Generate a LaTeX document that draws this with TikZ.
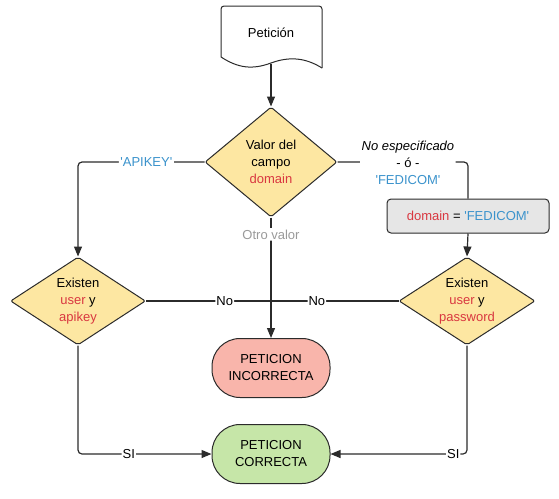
\documentclass[tikz,border=0pt]{standalone}
\usepackage{fontspec}
\setmainfont{Liberation Sans}
\usetikzlibrary{shapes.geometric,arrows.meta}
\definecolor{decfill}{HTML}{FDE7A2}
\definecolor{badfill}{HTML}{F9B5AB}
\definecolor{goodfill}{HTML}{C6E6A8}
\definecolor{boxfill}{HTML}{E6E6E6}
\definecolor{redtxt}{HTML}{D93740}
\definecolor{bluetxt}{HTML}{3B93CC}
\definecolor{graytxt}{HTML}{9A9A9A}
\definecolor{edge}{HTML}{2B2B2B}
\newcommand{\sq}{\textquotesingle}
\tikzset{
  decision/.style={diamond,draw=edge,line width=1pt,fill=decfill,inner sep=0pt,align=center,rounded corners=2pt},
  terminal/.style={rectangle,draw=edge,line width=1pt,rounded corners=28pt,minimum width=118pt,minimum height=59pt,align=center},
  setbox/.style={rectangle,draw=edge,line width=1pt,fill=boxfill,rounded corners=4pt,minimum width=162pt,minimum height=34pt},
  conn/.style={draw=edge,line width=1.2pt,rounded corners=4pt},
  arr/.style={conn,-{Triangle[length=10pt,width=8pt]}},
  lbl/.style={fill=white,inner sep=1.5pt,align=center}
}
\begin{document}
\begin{tikzpicture}[x=1pt,y=-1pt,font=\fontsize{13}{17}\selectfont]
\useasboundingbox (0,0) rectangle (559,498);
% document shape
\draw[edge,line width=1pt,rounded corners=3pt] (221,57) -- (221,6) -- (322,6) -- (322,68);
\draw[edge,line width=1pt] (322,68) .. controls (306,58) and (290,56) .. (271,63) .. controls (252,70) and (238,68) .. (221,57);
\node (doc) at (271,33) {Petición};
\coordinate (docb) at (271,63.5);
% decisions
\node[decision,aspect=1.2,minimum width=132pt,minimum height=110pt] (dv) at (271,162) {Valor del\\campo\\\textcolor{redtxt}{domain}};
\node[decision,aspect=1.53,minimum width=135pt,minimum height=88pt] (ld) at (78,301) {Existen\\\textcolor{redtxt}{user} y\\\textcolor{redtxt}{apikey}};
\node[decision,aspect=1.55,minimum width=136pt,minimum height=88pt] (rd) at (467,301) {Existen\\\textcolor{redtxt}{user} y\\\textcolor{redtxt}{password}};
\node[setbox] (box) at (468,216) {\textcolor{redtxt}{domain} = \textcolor{bluetxt}{\sq FEDICOM\sq}};
\node[terminal,fill=badfill] (inc) at (271,368) {PETICION\\INCORRECTA};
\node[terminal,fill=goodfill] (cor) at (271,454) {PETICION\\CORRECTA};
\coordinate (jn) at (271,301);
% connectors
\draw[arr] (docb) -- (dv.north);
\draw[arr] (dv.west) -| node[lbl,pos=0.23]{\textcolor{bluetxt}{\sq APIKEY\sq}} (ld.north);
\draw[conn] (dv.east) -| node[lbl,pos=0.27,yshift=-0.5pt]{\textit{No especificado}\\- ó -\\\textcolor{bluetxt}{\sq FEDICOM\sq}} (box.north);
\draw[arr] (box.south) -- (rd.north);
\draw[arr] (dv.south) -- node[lbl,pos=0.14]{\textcolor{graytxt}{Otro valor}} (inc.north);
\draw[conn] (ld.east) -- node[lbl,pos=0.63,inner sep=1pt]{No} (jn);
\draw[conn] (rd.west) -- node[lbl,pos=0.64,inner sep=1pt]{No} (jn);
\fill[edge] (jn) circle (1.2pt);
\draw[arr] (ld.south) |- node[lbl,pos=0.69,inner sep=1pt]{SI} (cor.west);
\draw[arr] (rd.south) |- node[lbl,pos=0.55,inner sep=1pt]{SI} (cor.east);
\end{tikzpicture}
\end{document}
